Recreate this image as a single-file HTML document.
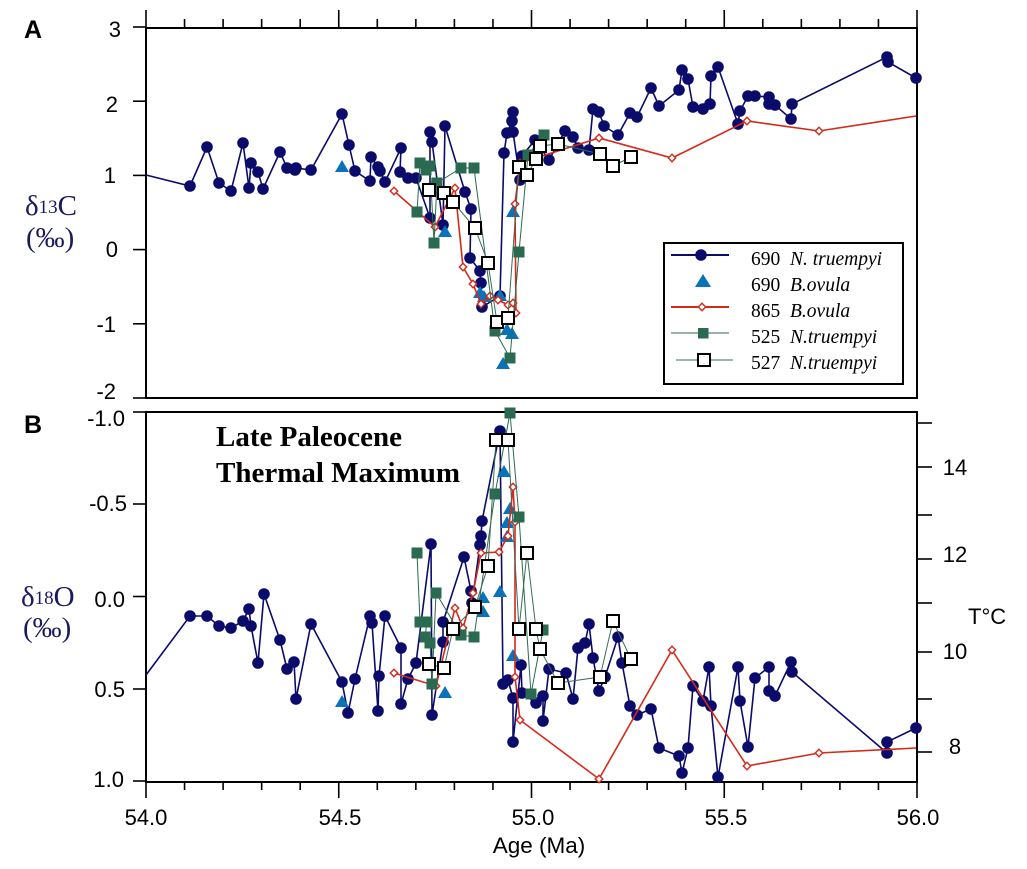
<!DOCTYPE html>
<html><head><meta charset="utf-8"><style>
html,body{margin:0;padding:0;background:#fff;}
svg{display:block;}
.t{font-family:"Liberation Sans",Arial,sans-serif;font-size:22px;fill:#000;}
.s{font-family:"Liberation Serif","Times New Roman",serif;}
</style></head><body>
<svg width="1027" height="869" viewBox="0 0 1027 869" xmlns="http://www.w3.org/2000/svg">
<defs>
<marker id="mc" markerWidth="14" markerHeight="14" refX="7" refY="7" markerUnits="userSpaceOnUse"><circle cx="7" cy="7" r="5.8" fill="#0b0b6b"/></marker>
<marker id="md" markerWidth="12" markerHeight="12" refX="6" refY="6" markerUnits="userSpaceOnUse"><path d="M6 2.3 L9.7 6 L6 9.7 L2.3 6Z" fill="#fff" stroke="#d42a1a" stroke-width="1.4"/></marker>
<marker id="mg" markerWidth="12" markerHeight="12" refX="6" refY="6" markerUnits="userSpaceOnUse"><rect x="0.5" y="0.5" width="11" height="11" fill="#2a6a50"/></marker>
<marker id="mo" markerWidth="16" markerHeight="16" refX="8" refY="8" markerUnits="userSpaceOnUse"><rect x="2" y="2" width="12" height="12" fill="#fff" stroke="#000" stroke-width="2"/></marker>
</defs>

<!-- Frames -->
<rect x="146" y="28" width="771" height="370" fill="none" stroke="#000" stroke-width="2"/>
<rect x="146" y="412" width="771" height="370" fill="none" stroke="#000" stroke-width="2"/>

<!-- top ticks panel A -->
<g stroke="#000" stroke-width="1.6">
<line x1="146" y1="28" x2="146" y2="10"/><line x1="184.55" y1="28" x2="184.55" y2="19"/><line x1="223.1" y1="28" x2="223.1" y2="19"/><line x1="261.65" y1="28" x2="261.65" y2="19"/><line x1="300.2" y1="28" x2="300.2" y2="19"/>
<line x1="338.75" y1="28" x2="338.75" y2="10"/><line x1="377.3" y1="28" x2="377.3" y2="19"/><line x1="415.85" y1="28" x2="415.85" y2="19"/><line x1="454.4" y1="28" x2="454.4" y2="19"/><line x1="492.95" y1="28" x2="492.95" y2="19"/>
<line x1="531.5" y1="28" x2="531.5" y2="10"/><line x1="570.05" y1="28" x2="570.05" y2="19"/><line x1="608.6" y1="28" x2="608.6" y2="19"/><line x1="647.15" y1="28" x2="647.15" y2="19"/><line x1="685.7" y1="28" x2="685.7" y2="19"/>
<line x1="724.25" y1="28" x2="724.25" y2="10"/><line x1="762.8" y1="28" x2="762.8" y2="19"/><line x1="801.35" y1="28" x2="801.35" y2="19"/><line x1="839.9" y1="28" x2="839.9" y2="19"/><line x1="878.45" y1="28" x2="878.45" y2="19"/>
<line x1="917" y1="28" x2="917" y2="10"/>
</g>
<!-- bottom ticks panel B -->
<g stroke="#000" stroke-width="1.6">
<line x1="146" y1="782" x2="146" y2="798"/><line x1="184.55" y1="782" x2="184.55" y2="790"/><line x1="223.1" y1="782" x2="223.1" y2="790"/><line x1="261.65" y1="782" x2="261.65" y2="790"/><line x1="300.2" y1="782" x2="300.2" y2="790"/>
<line x1="338.75" y1="782" x2="338.75" y2="798"/><line x1="377.3" y1="782" x2="377.3" y2="790"/><line x1="415.85" y1="782" x2="415.85" y2="790"/><line x1="454.4" y1="782" x2="454.4" y2="790"/><line x1="492.95" y1="782" x2="492.95" y2="790"/>
<line x1="531.5" y1="782" x2="531.5" y2="798"/><line x1="570.05" y1="782" x2="570.05" y2="790"/><line x1="608.6" y1="782" x2="608.6" y2="790"/><line x1="647.15" y1="782" x2="647.15" y2="790"/><line x1="685.7" y1="782" x2="685.7" y2="790"/>
<line x1="724.25" y1="782" x2="724.25" y2="798"/><line x1="762.8" y1="782" x2="762.8" y2="790"/><line x1="801.35" y1="782" x2="801.35" y2="790"/><line x1="839.9" y1="782" x2="839.9" y2="790"/><line x1="878.45" y1="782" x2="878.45" y2="790"/>
<line x1="917" y1="782" x2="917" y2="798"/>
</g>
<!-- left ticks -->
<g stroke="#000" stroke-width="1.6">
<line x1="133" y1="27" x2="146" y2="27"/><line x1="133" y1="101.2" x2="146" y2="101.2"/><line x1="133" y1="175.4" x2="146" y2="175.4"/><line x1="133" y1="249.6" x2="146" y2="249.6"/><line x1="133" y1="323.8" x2="146" y2="323.8"/><line x1="133" y1="398" x2="146" y2="398"/>
<line x1="133" y1="412" x2="146" y2="412"/><line x1="133" y1="504" x2="146" y2="504"/><line x1="133" y1="596.5" x2="146" y2="596.5"/><line x1="133" y1="689" x2="146" y2="689"/><line x1="133" y1="781" x2="146" y2="781"/>
</g>
<!-- right ticks panel B -->
<g stroke="#000" stroke-width="1.6">
<line x1="917" y1="423" x2="932" y2="423"/><line x1="917" y1="467" x2="932" y2="467"/><line x1="917" y1="515" x2="932" y2="515"/><line x1="917" y1="559" x2="932" y2="559"/><line x1="917" y1="603" x2="932" y2="603"/><line x1="917" y1="652" x2="932" y2="652"/><line x1="917" y1="699" x2="932" y2="699"/><line x1="917" y1="752" x2="932" y2="752"/>
</g>

<!-- tick labels -->
<g class="t" text-anchor="end">
<text x="121" y="37">3</text><text x="118" y="112">2</text><text x="116" y="183">1</text><text x="118" y="257">0</text><text x="116" y="332">-1</text><text x="116" y="399">-2</text>
<text x="125" y="426">-1.0</text><text x="127" y="511">-0.5</text><text x="125" y="607">0.0</text><text x="125" y="697">0.5</text><text x="124" y="787">1.0</text>
</g>
<g class="t" text-anchor="middle">
<text x="146" y="825">54.0</text><text x="340" y="825">54.5</text><text x="533" y="825">55.0</text><text x="726" y="825">55.5</text><text x="918" y="825">56.0</text>
<text x="539" y="853" style="font-size:22.5px">Age (Ma)</text>
<text x="955" y="475">14</text><text x="955" y="562">12</text><text x="955" y="659">10</text><text x="955" y="754">8</text>
</g>
<text class="t" x="968" y="624">T°C</text>
<text x="24" y="38" style="font-family:'Liberation Sans',Arial,sans-serif;font-weight:bold;font-size:25px">A</text>
<text x="24" y="433" style="font-family:'Liberation Sans',Arial,sans-serif;font-weight:bold;font-size:25px">B</text>

<!-- y labels -->
<g class="s" fill="#1a1a5e" style="font-size:29px">
<text x="25" y="215">δ<tspan style="font-size:19px" dy="-2">13</tspan><tspan dy="2">C</tspan></text>
<text x="26" y="247">(‰)</text>
<text x="21" y="606">δ<tspan style="font-size:19px" dy="-2">18</tspan><tspan dy="2">O</tspan></text>
<text x="23" y="637">(‰)</text>
</g>
<g class="s" style="font-size:29px;font-weight:bold">
<text x="216" y="446">Late Paleocene</text>
<text x="216" y="482">Thermal Maximum</text>
</g>

<!-- ===== Panel A data ===== -->
<polyline fill="none" stroke="#0b0b6b" stroke-width="1.6" marker-mid="url(#mc)" marker-end="url(#mc)" points="146,175 190,186 207,147 219,183 231,191 243,143 249,188 251,163 258,172 263,189 280,152 287,168 295,170 296,168 311,170 342,114 349,145 355,171 370,181 371,157 378,167 380,171 385,182 401,148 400,172 408,178 416,178 430,218 430,132 432,142 443,225 445,126 465,192 471,209 470,258 480,271 481,283 482,307 500,296 504,153 507,133 512,121 513,112 513,132 520,180 522,156 535,140 549,160 565,131 573,137 578,148 589,150 593,109 599,112 604,126 618,135 630,113 637,117 651,88 659,106 679,90 682,70 688,79 693,107 703,109 710,104 711,76 718,67 738,124 740,111 748,96 755,96 769,97 769,104 775,105 791,119 792,104 887,57 888,62 916,78"/>
<g fill="#0a72b8">
<path d="M342 160 L335 172 L349 172Z"/><path d="M445 225 L438 237 L452 237Z"/><path d="M480 286 L473 298 L487 298Z"/><path d="M484 290 L477 302 L491 302Z"/><path d="M500 289 L493 301 L507 301Z"/><path d="M507 323 L500 335 L514 335Z"/><path d="M512 327 L505 339 L519 339Z"/><path d="M503 357 L496 369 L510 369Z"/><path d="M513 205 L506 217 L520 217Z"/>
</g>
<polyline fill="none" stroke="#d42a1a" stroke-width="1.6" marker-start="url(#md)" marker-mid="url(#md)" points="394,191 435,227 455,188 463,267 473,284 481,304 490,296 498,300 508,305 513,303 516,313 515,204 520,163 599,138 672,158 747,121 819,131 916,116"/>
<polyline fill="none" stroke="#2a6a50" stroke-width="1" marker-start="url(#mg)" marker-mid="url(#mg)" marker-end="url(#mg)" points="417,212 420,163 426,170 430,166 434,243 437,183 461,168 474,168 495,331 510,358 519,252 528,155 544,135"/>
<polyline fill="none" stroke="#3b6b5b" stroke-width="1" marker-start="url(#mo)" marker-mid="url(#mo)" marker-end="url(#mo)" points="429,190 444,193 453,202 475,228 488,263 497,322 508,318 519,167 527,175 536,159 540,146 558,144 600,154 613,166 631,157"/>

<!-- ===== Panel B data ===== -->
<polyline fill="none" stroke="#0b0b6b" stroke-width="1.6" marker-mid="url(#mc)" marker-end="url(#mc)" points="146,675 190,616 207,616 219,626 231,628 243,621 249,609 251,626 258,663 264,594 280,640 287,669 294,662 296,699 311,624 342,682 348,713 355,679 370,616 372,623 378,711 379,676 385,616 401,648 401,704 408,679 416,663 431,544 432,715 443,642 443,622 464,557 471,591 472,603 480,545 481,536 482,521 500,431 503,684 508,680 513,698 513,742 521,665 522,693 536,703 543,696 543,721 549,669 566,673 573,699 578,648 585,643 589,624 593,658 599,691 605,677 618,637 622,663 630,706 637,715 651,709 659,748 679,756 682,773 688,748 693,686 703,701 709,667 711,706 718,777 738,667 740,701 748,747 755,678 769,667 769,691 775,696 791,662 792,672 887,753 887,742 916,728"/>
<g fill="#0a72b8">
<path d="M342 695 L335 707 L349 707Z"/><path d="M445 686 L438 698 L452 698Z"/><path d="M483 591 L476 603 L490 603Z"/><path d="M483 605 L476 617 L490 617Z"/><path d="M500 585 L493 597 L507 597Z"/><path d="M504 465 L497 477 L511 477Z"/><path d="M510 502 L503 514 L517 514Z"/><path d="M507 516 L500 528 L514 528Z"/><path d="M507 530 L500 542 L514 542Z"/><path d="M513 649 L506 661 L520 661Z"/>
</g>
<polyline fill="none" stroke="#d42a1a" stroke-width="1.6" marker-start="url(#md)" marker-mid="url(#md)" points="394,673 436,686 455,608 463,628 473,593 481,553 499,552 508,536 513,487 515,522 515,677 520,720 599,779 672,650 747,766 819,753 916,748"/>
<polyline fill="none" stroke="#2a6a50" stroke-width="1" marker-start="url(#mg)" marker-mid="url(#mg)" marker-end="url(#mg)" points="417,553 420,622 427,622 425,637 430,643 432,684 436,593 461,635 474,637 495,494 510,413 519,517 531,694 543,630"/>
<polyline fill="none" stroke="#3b6b5b" stroke-width="1" marker-start="url(#mo)" marker-mid="url(#mo)" marker-end="url(#mo)" points="429,664 444,668 453,629 475,607 488,566 496,440 508,440 519,629 527,553 536,629 540,649 558,683 600,677 613,621 631,659"/>

<!-- Legend -->
<rect x="664" y="243" width="239" height="141" fill="#fff" stroke="#000" stroke-width="2"/>
<line x1="671" y1="255" x2="729" y2="255" stroke="#0b0b6b" stroke-width="2"/>
<circle cx="701" cy="255" r="5.8" fill="#0b0b6b"/>
<path d="M703 274 L695 287 L711 287Z" fill="#0a72b8"/>
<line x1="671" y1="307" x2="729" y2="307" stroke="#d42a1a" stroke-width="2"/>
<path d="M702 303.3 L705.7 307 L702 310.7 L698.3 307Z" fill="#fff" stroke="#d42a1a" stroke-width="1.4"/>
<line x1="671" y1="333" x2="729" y2="333" stroke="#2a6a50" stroke-width="1"/>
<rect x="698" y="328" width="10.5" height="10.5" fill="#2a6a50"/>
<line x1="676" y1="360" x2="733" y2="360" stroke="#3b6b5b" stroke-width="1"/>
<rect x="698" y="354" width="12" height="12" fill="#fff" stroke="#000" stroke-width="2"/>
<g class="s" style="font-size:19.5px">
<text x="751" y="265">690</text><text x="790" y="265" font-style="italic">N. truempyi</text>
<text x="751" y="291">690</text><text x="790" y="291" font-style="italic">B.ovula</text>
<text x="751" y="317">865</text><text x="790" y="317" font-style="italic">B.ovula</text>
<text x="751" y="343">525</text><text x="790" y="343" font-style="italic">N.truempyi</text>
<text x="751" y="369">527</text><text x="790" y="369" font-style="italic">N.truempyi</text>
</g>
</svg>
</body></html>
